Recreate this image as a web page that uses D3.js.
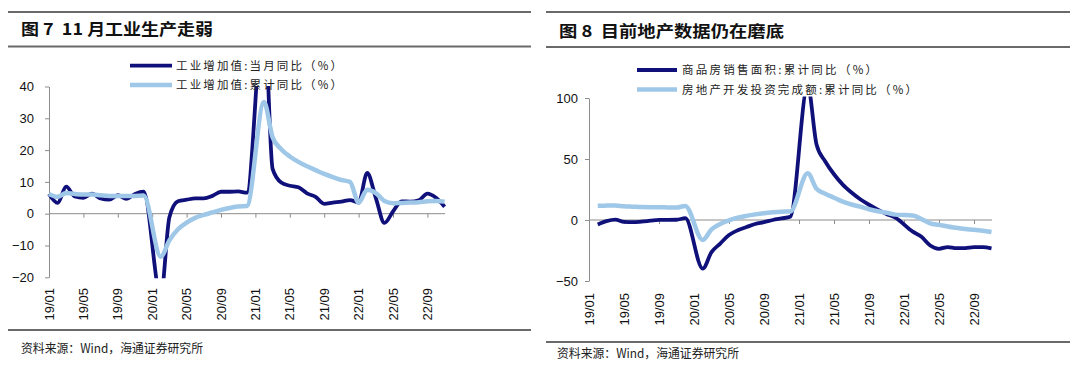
<!DOCTYPE html>
<html><head><meta charset="utf-8">
<script src="https://cdn.jsdelivr.net/npm/d3@7"></script>
<style>
html,body{margin:0;padding:0;background:#fff;}
svg{display:block;}
text.title{white-space:pre;}
</style></head><body>
<svg id="c" width="1080" height="367"></svg>
<script>
// ---------- data ----------
const months = ["19/01","19/02","19/03","19/04","19/05","19/06","19/07","19/08","19/09","19/10","19/11","19/12",
"20/01","20/02","20/03","20/04","20/05","20/06","20/07","20/08","20/09","20/10","20/11","20/12",
"21/01","21/02","21/03","21/04","21/05","21/06","21/07","21/08","21/09","21/10","21/11","21/12",
"22/01","22/02","22/03","22/04","22/05","22/06","22/07","22/08","22/09","22/10","22/11"];
const xTickLabels = ["19/01","19/05","19/09","20/01","20/05","20/09","21/01","21/05","21/09","22/01","22/05","22/09"];
const leftYTicks = [-20,-10,0,10,20,30,40];
const rightYTicks = [-50,0,50,100];

// 工业增加值:当月同比
const ipMonthly = [6.2,3.4,8.5,5.4,5.0,6.3,4.8,4.4,5.8,4.7,6.2,6.9,
  null,-25.9,-1.1,3.9,4.4,4.8,4.8,5.6,6.9,6.9,7.0,6.6,
  null,64,14.1,9.8,8.8,8.3,6.4,5.3,3.1,3.5,3.8,4.3,
  3.5,12.8,5.0,-2.9,0.7,3.9,3.8,4.2,6.3,5.0,2.2];
// 工业增加值:累计同比
const ipCumulative = [6.2,5.3,6.5,6.2,6.0,6.0,5.8,5.6,5.6,5.6,5.6,5.7,
  null,-13.5,-8.4,-4.9,-2.8,-1.3,-0.4,0.4,1.2,1.8,2.3,2.4,
  null,35.1,24.0,20.3,18.0,16.3,14.9,13.7,12.5,11.5,10.6,10.0,
  3.5,7.5,6.5,4.0,3.3,3.4,3.5,3.6,3.9,4.0,3.8];
// 商品房销售面积:累计同比
const salesArea = [null,-3.6,-0.9,0.3,-1.6,-1.8,-1.3,-0.6,0.1,0.1,0.2,1.5,
  null,-39.9,-26.3,-19.3,-12.3,-8.4,-5.8,-3.3,-1.8,0.0,1.3,2.6,
  null,110,62,48,37.5,29,22.5,17,12.5,8.5,5,1.9,
  null,-9.6,-13.8,-20.9,-23.6,-22.2,-23.1,-23.0,-22.2,-22.3,-23.3];
// 房地产开发投资完成额:累计同比
const reInvestment = [null,11.6,11.8,11.9,11.2,10.9,10.6,10.5,10.5,10.3,10.2,11.5,
  null,-16.3,-7.7,-3.3,-0.3,1.9,3.4,4.6,5.6,6.3,6.8,7.0,
  null,38.3,25.6,21.6,18.3,15.0,12.7,10.9,8.8,7.2,6.0,4.4,
  null,3.7,0.7,-2.7,-4.0,-5.4,-6.4,-7.4,-8.0,-8.8,-9.8];

const leftNames = ["工业增加值:当月同比（%）","工业增加值:累计同比（%）"];
const rightNames = ["商品房销售面积:累计同比（%）","房地产开发投资完成额:累计同比（%）"];
const titles = ["图 7  11 月工业生产走弱","图 8  目前地产数据仍在磨底"];
const sourceText = "资料来源：Wind，海通证券研究所";

// ---------- style ----------
const DARK = "#10107a", LIGHT = "#9fc8e8", AXIS = "#8c8c8c", RULE = "#6a6a6a";
const NUM_FONT = "'Liberation Sans', Arial, sans-serif";
const CJK_FONT = "'Noto Sans CJK SC', 'Noto Sans', sans-serif";

const svg = d3.select("#c");

function panel(cfg){
  const g = svg.append("g");
  // header rules and title
  g.append("line").attr("x1",cfg.ruleX[0]).attr("x2",cfg.ruleX[1]).attr("y1",cfg.rule1).attr("y2",cfg.rule1)
    .attr("stroke",RULE).attr("stroke-width",2);
  g.append("line").attr("x1",cfg.ruleX[0]).attr("x2",cfg.ruleX[1]).attr("y1",cfg.rule2).attr("y2",cfg.rule2)
    .attr("stroke",RULE).attr("stroke-width",2);
  g.append("text").attr("class","title").attr("x",cfg.titleX).attr("y",cfg.titleY).attr("dy","0.35em")
    .attr("xml:space","preserve")
    .attr("font-family",CJK_FONT).attr("font-weight",700).attr("font-size",16).attr("fill","#111")
    .attr("textLength",cfg.titleLen).attr("lengthAdjust","spacingAndGlyphs").text(cfg.title);
  // bottom rule and source
  g.append("line").attr("x1",cfg.ruleX[0]).attr("x2",cfg.ruleX[1]).attr("y1",cfg.rule3).attr("y2",cfg.rule3)
    .attr("stroke",RULE).attr("stroke-width",2);
  g.append("text").attr("x",cfg.srcX).attr("y",cfg.srcY).attr("dy","0.35em")
    .attr("font-family",CJK_FONT).attr("font-size",12.5).attr("fill","#222")
    .attr("textLength",cfg.srcLen).attr("lengthAdjust","spacingAndGlyphs").text(sourceText);

  const x = d3.scalePoint().domain(months).range(cfg.xRange);
  const y = d3.scaleLinear().domain(cfg.yDomain).range(cfg.yRange);

  // y axis
  const ya = d3.axisLeft(y).tickValues(cfg.yTicks).tickSize(4).tickSizeOuter(0).tickPadding(cfg.yPad).tickFormat(d3.format("d"));
  const yg = g.append("g").attr("transform",`translate(${cfg.xRange[0]},0)`).call(ya);
  yg.select(".domain").attr("stroke",AXIS);
  yg.selectAll(".tick line").attr("stroke",AXIS);
  yg.selectAll(".tick text").attr("font-family",NUM_FONT).attr("font-size",13).attr("fill","#111");

  // x axis at zero
  const xa = d3.axisBottom(x).tickValues(xTickLabels).tickSize(4).tickSizeOuter(0).tickFormat("");
  const xg = g.append("g").attr("transform",`translate(0,${y(0)})`).call(xa);
  xg.select(".domain").attr("stroke",AXIS).attr("d",`M${cfg.xRange[0]},0H${cfg.xEnd}`);
  xg.selectAll(".tick line").attr("stroke",AXIS);
  // low-position rotated labels
  g.selectAll("text.xl").data(xTickLabels).join("text").attr("class","xl")
    .attr("transform",d=>`translate(${x(d)},${cfg.xLabelTop}) rotate(-90)`)
    .attr("text-anchor","end").attr("dy","0.36em")
    .attr("font-family",NUM_FONT).attr("font-size",13).attr("fill","#111").text(d=>d);

  // clip
  const cid = "clip"+cfg.id;
  svg.append("clipPath").attr("id",cid).append("rect")
    .attr("x",cfg.xRange[0]-10).attr("y",cfg.clipY[0]).attr("width",cfg.xRange[1]-cfg.xRange[0]+20).attr("height",cfg.clipY[1]-cfg.clipY[0]);
  const lg = g.append("g").attr("clip-path",`url(#${cid})`);
  const line = d3.line().x(d=>x(d.m)).y(d=>y(d.v)).curve(d3.curveMonotoneX);
  cfg.series.forEach((s,k)=>{
    const pts = months.map((m,i)=>({m, v:s.values[i]})).filter(d=>d.v!==null);
    lg.append("path").attr("d",line(pts)).attr("fill","none").attr("stroke",s.color)
      .attr("stroke-width",s.width).attr("stroke-linejoin","round").attr("stroke-linecap","butt");
  });

  // legend
  cfg.series.forEach((s,k)=>{
    const ly = cfg.legY[k];
    g.append("line").attr("x1",cfg.legX[0]).attr("x2",cfg.legX[1]).attr("y1",ly).attr("y2",ly)
      .attr("stroke",s.color).attr("stroke-width",s.width);
    g.append("text").attr("x",cfg.legX[2]).attr("y",ly).attr("dy","0.35em")
      .attr("font-family",CJK_FONT).attr("font-size",11.5).attr("fill","#222")
      .attr("textLength",cfg.legLen[k]).attr("lengthAdjust","spacing").text(s.name);
  });
}

panel({
  id:"L", title:titles[0], titleX:21, titleY:29.5, titleLen:192,
  ruleX:[8,531], rule1:12, rule2:46.5, rule3:330, srcX:21, srcY:349, srcLen:182,
  xRange:[49,444.6], xEnd:445, yDomain:[-20,40], yRange:[277.3,86.5], yTicks:leftYTicks, yPad:11,
  clipY:[86,278.3], xLabelTop:288,
  legX:[130,172,176], legY:[65.7,85], legLen:[166,166],
  series:[{name:leftNames[0],values:ipMonthly,color:DARK,width:3.8},
          {name:leftNames[1],values:ipCumulative,color:LIGHT,width:4.5}]
});
panel({
  id:"R", title:titles[1], titleX:559, titleY:31, titleLen:225,
  ruleX:[546,1070], rule1:12, rule2:47, rule3:342, srcX:557, srcY:354, srcLen:182,
  xRange:[589,991.5], xEnd:992, yDomain:[-50,100], yRange:[281,98], yTicks:rightYTicks, yPad:7,
  clipY:[96.5,282], xLabelTop:293,
  legX:[637,677,682], legY:[70,89.5], legLen:[195,235],
  series:[{name:rightNames[0],values:salesArea,color:DARK,width:3.8},
          {name:rightNames[1],values:reInvestment,color:LIGHT,width:4.5}]
});
</script>
</body></html>
